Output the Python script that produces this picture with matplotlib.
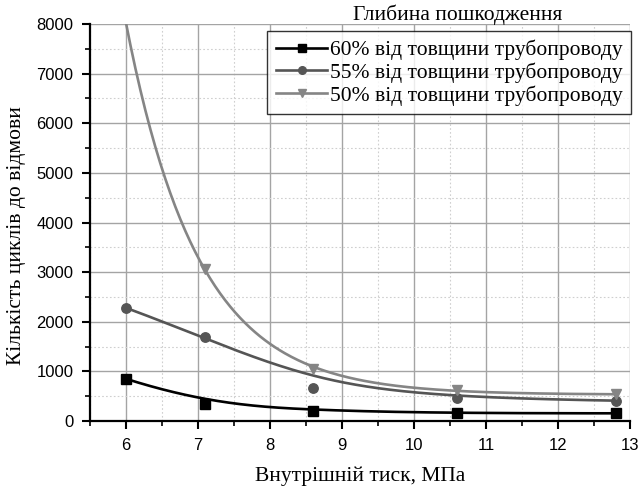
import matplotlib.pyplot as plt
import numpy as np

# internal pressure, MPa
pressure = [6.0, 7.1, 8.6, 10.6, 12.8]
# first point of the 50% series lies above the plot (not visible)
pressure_50 = [5.9, 7.1, 8.6, 10.6, 12.8]

# cycles to failure for each damage depth
cycles_60 = [850, 345, 200, 155, 155]
cycles_55 = [2280, 1690, 665, 465, 410]
cycles_50 = [8800, 3065, 1050, 625, 545]

labels = ["60% від товщини трубопроводу",
          "55% від товщини трубопроводу",
          "50% від товщини трубопроводу"]
colors = ["#000000", "#555555", "#858585"]
markers = ["s", "o", "v"]
curve_kind = ["bspline", "bspline", "expfit"]

serif = ["Liberation Serif", "DejaVu Serif"]
sans = ["Liberation Sans", "DejaVu Sans"]


def bspline(x, y, n=300):
    # clamped cubic B-spline with the data points as control points
    P = np.column_stack([x, y]).astype(float)
    m = len(P)
    deg = 3
    inner = np.linspace(0, 1, m - deg + 1)[1:-1]
    knots = np.concatenate([[0] * (deg + 1), inner, [1] * (deg + 1)])
    out = []
    for t in np.linspace(0, 1, n):
        k = np.searchsorted(knots, t, side="right") - 1
        k = min(max(k, deg), m - 1)
        d = [P[j + k - deg].copy() for j in range(deg + 1)]
        for r in range(1, deg + 1):
            for j in range(deg, r - 1, -1):
                i = j + k - deg
                den = knots[i + deg - r + 1] - knots[i]
                a = 0 if den == 0 else (t - knots[i]) / den
                d[j] = (1 - a) * d[j - 1] + a * d[j]
        out.append(d[deg])
    out = np.array(out)
    return out[:, 0], out[:, 1]


def exp_fit(x, y):
    # y = y0 + a*exp(-k*(x - x[0])), k picked by grid search
    x = np.asarray(x, float)
    y = np.asarray(y, float)
    best = None
    for k in np.linspace(0.05, 4, 800):
        e = np.exp(-k * (x - x[0]))
        A = np.column_stack([np.ones_like(e), e])
        coef, *_ = np.linalg.lstsq(A, y, rcond=None)
        err = np.sum((A @ coef - y) ** 2)
        if best is None or err < best[0]:
            best = (err, k, coef)
    _, k, (y0, a) = best
    xs = np.linspace(x[0], x[-1], 300)
    return xs, y0 + a * np.exp(-k * (xs - x[0]))


fig = plt.figure(figsize=(6.39, 4.88), dpi=100)
ax = fig.add_axes([0.1408, 0.1373, 0.845, 0.8135])

handles = []
series = zip([pressure, pressure, pressure_50], [cycles_60, cycles_55, cycles_50],
             colors, markers, labels, curve_kind)
for xs_d, ys, c, m, lab, kind in series:
    if kind == "bspline":
        xs, fy = bspline(xs_d, ys)
    else:
        xs, fy = exp_fit(xs_d, ys)
    ax.plot(xs, fy, color=c, lw=1.9, zorder=3)
    ax.plot(xs_d, ys, ls="none", marker=m, color=c, ms=6.8, zorder=4)
    h, = ax.plot([], [], color=c, lw=1.9, marker=m, ms=5.5, label=lab)
    handles.append(h)

ax.set_xlim(5.5, 13)
ax.set_ylim(0, 8000)
ax.set_xticks(range(6, 14))
ax.set_yticks(range(0, 8001, 1000))
ax.set_xticks(np.arange(5.5, 13.01, 0.5), minor=True)
ax.set_yticks(range(0, 8001, 500), minor=True)

ax.grid(which="major", color="#a4a4a4", lw=1.0)
ax.grid(which="minor", color="#cfcfcf", lw=0.8, ls=(0, (1.5, 2)))
ax.set_axisbelow(True)

for s in ["top", "right"]:
    ax.spines[s].set_visible(False)
for s in ["left", "bottom"]:
    ax.spines[s].set_linewidth(1.6)

ax.tick_params(which="major", direction="out", length=6, width=1.5, labelsize=12, pad=6)
ax.tick_params(which="minor", direction="out", length=3.5, width=1.2)
for t in ax.get_xticklabels() + ax.get_yticklabels():
    t.set_family(sans)

ax.set_xlabel("Внутрішній тиск, МПа", family=serif, fontsize=15.5, labelpad=10)
ax.set_ylabel("Кількість циклів до відмови", family=serif, fontsize=15.5)
ax.yaxis.set_label_coords(-0.118, 0.468)

leg = ax.legend(handles=handles, loc="upper right", bbox_to_anchor=(1.002, 0.982),
                prop={"family": serif, "size": 15.5}, frameon=True, fancybox=False,
                edgecolor="#000000", handlelength=2.4, handletextpad=0.1,
                borderpad=0.4, labelspacing=0.1, borderaxespad=0)
leg.get_frame().set_linewidth(1.0)
leg.set_zorder(5)
fig.text(0.716, 0.969, "Глибина пошкодження", family=serif, fontsize=15.5,
         ha="center", va="center")

fig.savefig("out.png", dpi=100)
